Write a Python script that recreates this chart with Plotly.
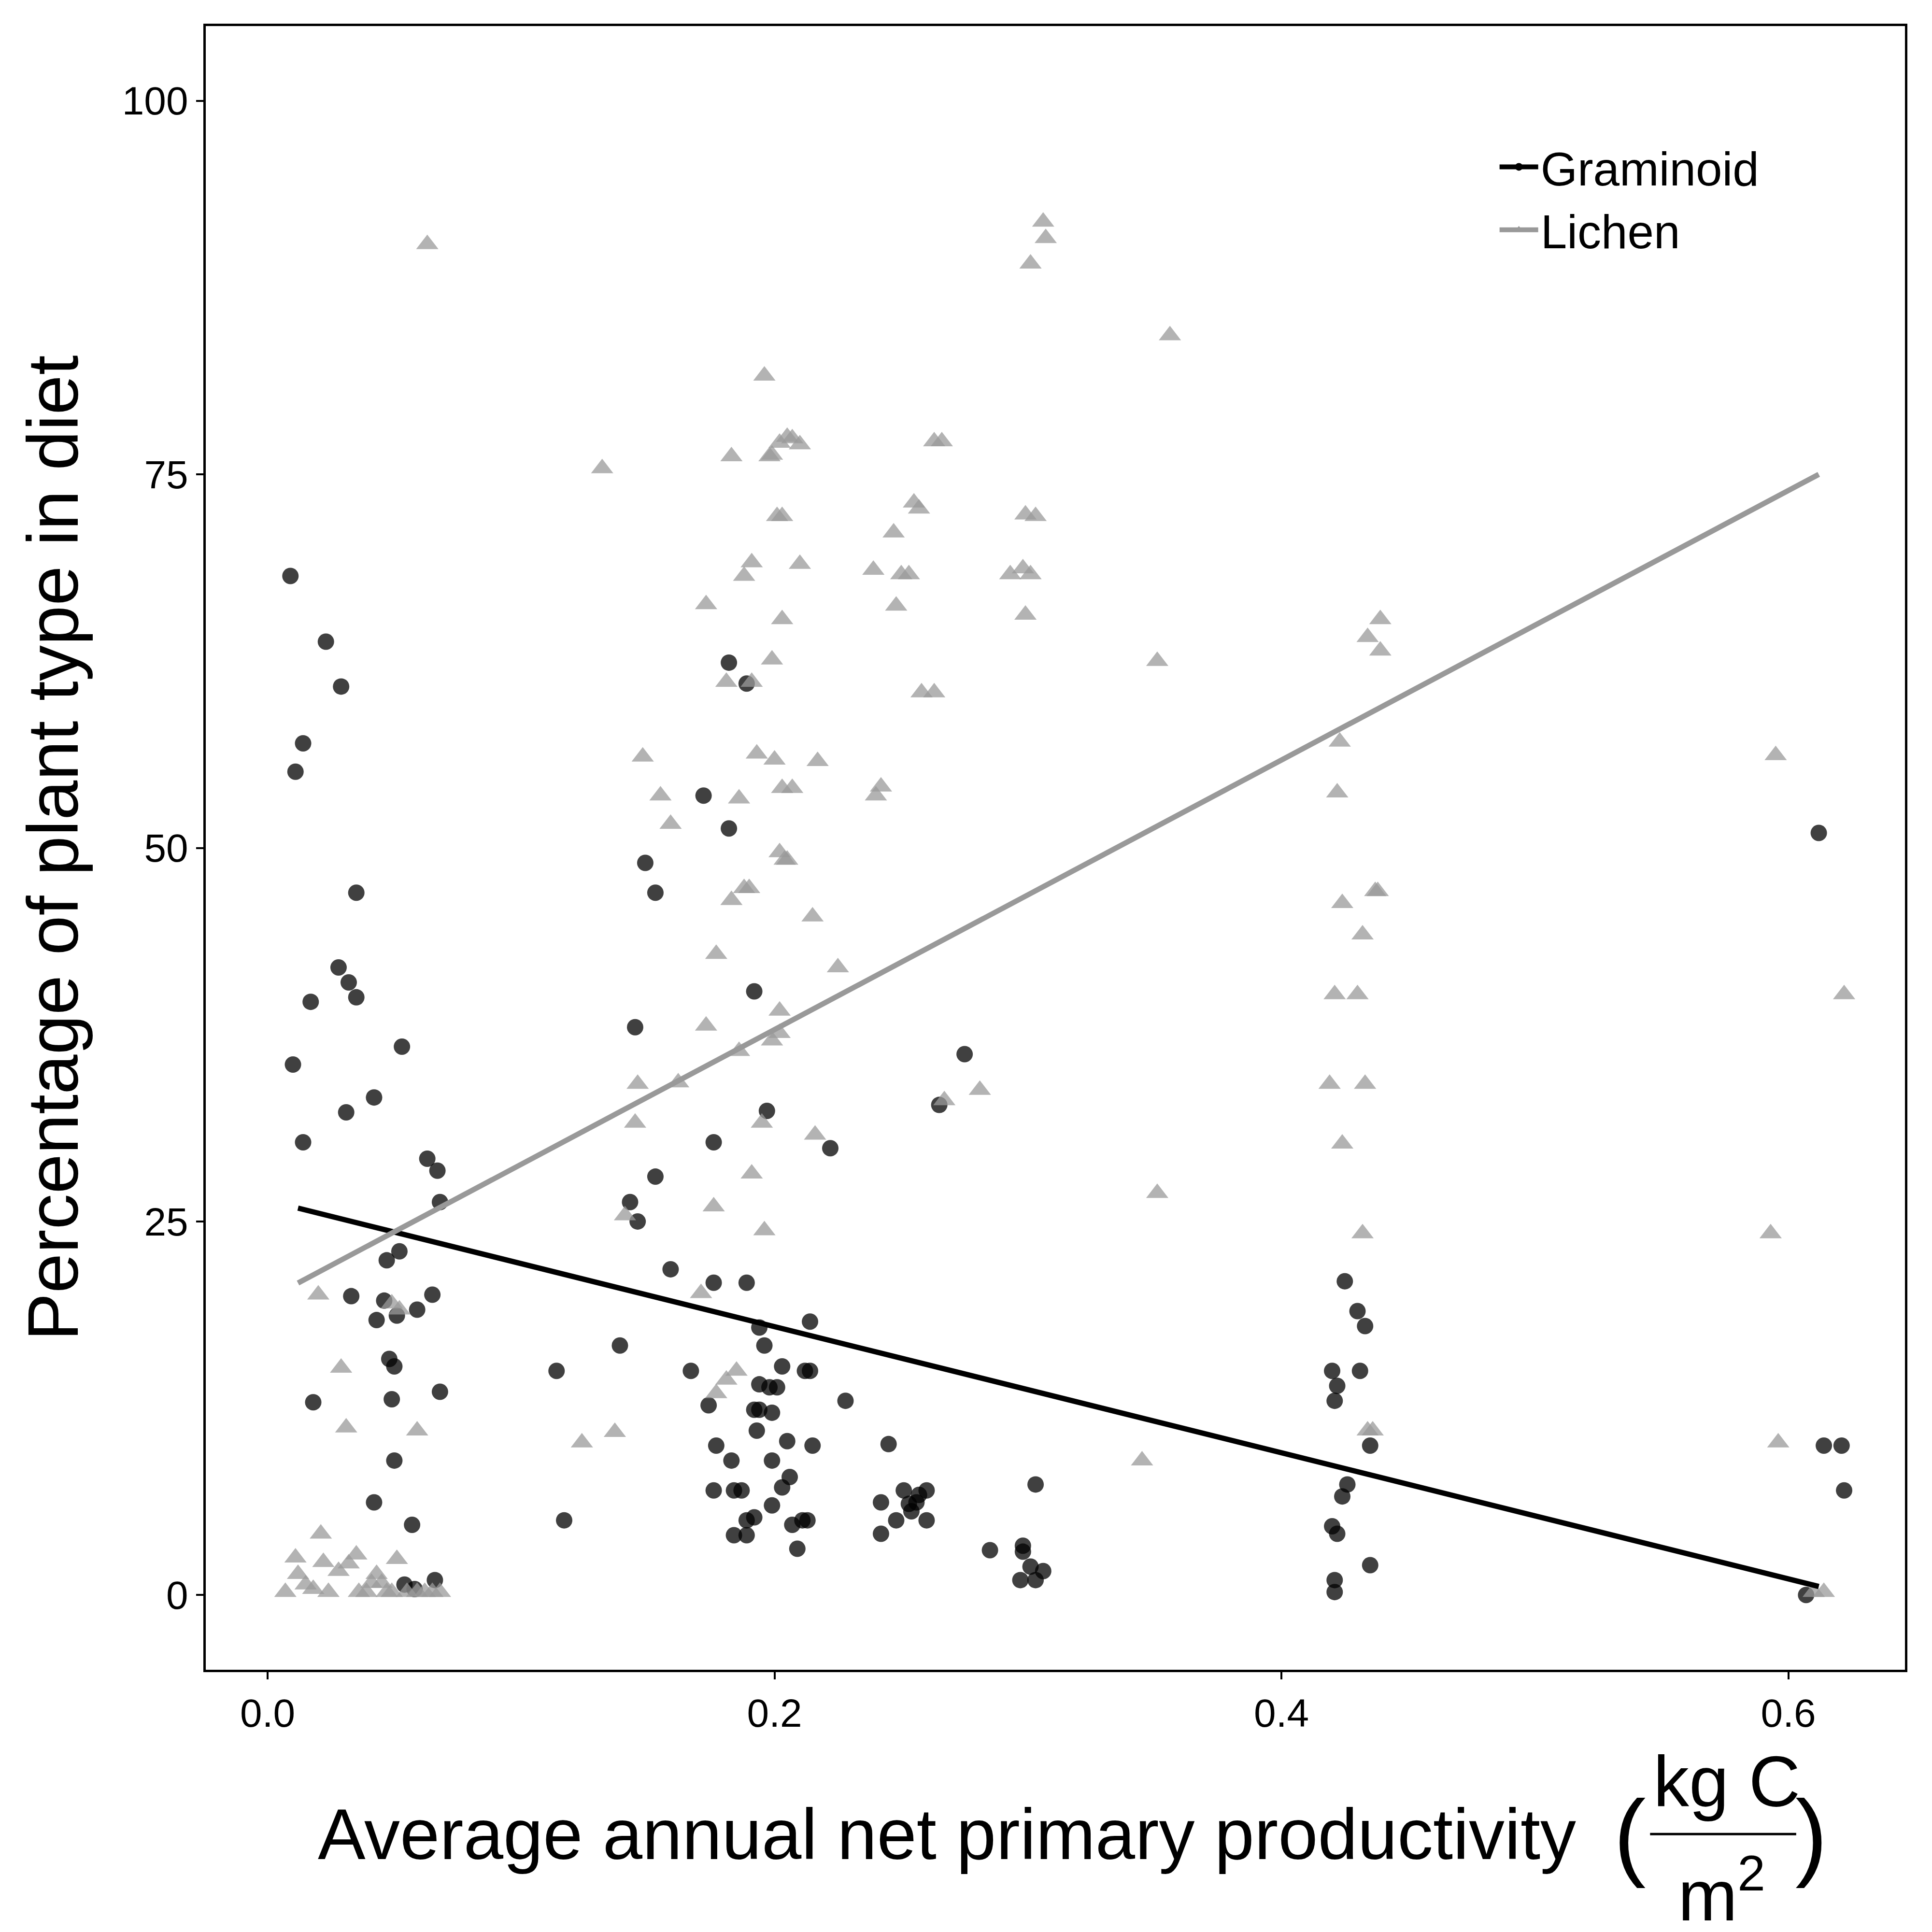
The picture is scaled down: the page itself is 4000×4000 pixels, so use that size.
import numpy as np
import plotly.graph_objects as go

# Graminoid share of diet vs NPP
gram_x = [0.009, 0.023, 0.029, 0.014, 0.011, 0.035, 0.028, 0.032, 0.035, 0.017, 0.053, 0.010, 0.042, 0.031,
          0.014, 0.063, 0.067, 0.068, 0.052, 0.047, 0.033, 0.065, 0.046, 0.059, 0.051, 0.043, 0.018, 0.048,
          0.050, 0.068, 0.049, 0.050, 0.042, 0.057, 0.054, 0.066, 0.058,
          0.114, 0.117, 0.139, 0.143, 0.146, 0.145, 0.149, 0.153, 0.153, 0.159, 0.167, 0.172, 0.176, 0.176,
          0.174, 0.177, 0.176, 0.182, 0.182, 0.189, 0.189, 0.192, 0.197, 0.194, 0.196, 0.183, 0.184, 0.187,
          0.184, 0.189, 0.189, 0.192, 0.192, 0.194, 0.194, 0.198, 0.199, 0.201, 0.203, 0.193, 0.199, 0.205,
          0.203, 0.206, 0.199, 0.207, 0.209, 0.211, 0.213, 0.212, 0.214, 0.215, 0.214, 0.222, 0.228, 0.242,
          0.242, 0.245, 0.248, 0.251, 0.253, 0.256, 0.257, 0.254, 0.260, 0.260, 0.265, 0.275, 0.285, 0.303,
          0.298, 0.297, 0.301, 0.303, 0.306, 0.298,
          0.425, 0.430, 0.433, 0.420, 0.431, 0.422, 0.421, 0.435, 0.426, 0.424, 0.420, 0.422, 0.435, 0.421,
          0.421, 0.612, 0.607, 0.614, 0.621, 0.622]
gram_y = [68.2, 63.8, 60.8, 57.0, 55.1, 47.0, 42.0, 41.0, 40.0, 39.7, 36.7, 35.5, 33.3, 32.3,
          30.3, 29.2, 28.4, 26.3, 23.0, 22.4, 20.0, 20.1, 19.7, 19.1, 18.7, 18.4, 12.9, 15.8,
          15.3, 13.6, 13.1, 9.0, 6.2, 4.7, 0.7, 1.0, 0.4,
          15.0, 5.0, 16.7, 26.3, 25.0, 38.0, 49.0, 47.0, 28.0, 21.8, 15.0, 53.5, 30.3, 20.9,
          12.7, 10.0, 7.0, 62.4, 51.3, 61.0, 20.9, 40.4, 32.4, 17.9, 16.7, 9.0, 7.0, 7.0,
          4.0, 4.0, 5.0, 5.2, 12.4, 12.4, 14.1, 13.9, 12.2, 13.9, 15.3, 11.0, 9.0, 10.3,
          7.2, 7.9, 6.0, 4.7, 3.1, 5.0, 5.0, 15.0, 18.3, 10.0, 15.0, 29.9, 13.0, 4.1,
          6.2, 10.1, 5.0, 7.0, 6.1, 6.2, 6.7, 5.6, 7.0, 5.0, 32.8, 36.2, 3.0, 7.4,
          3.3, 1.0, 1.9, 1.0, 1.6, 2.9,
          21.0, 19.0, 18.0, 15.0, 15.0, 14.0, 13.0, 10.0, 7.4, 6.6, 4.6, 4.1, 2.0, 1.0,
          0.2, 51.0, 0.0, 10.0, 10.0, 7.0]

# Lichen share of diet vs NPP
lich_x = [0.063, 0.007, 0.011, 0.012, 0.015, 0.018, 0.021, 0.020, 0.022, 0.024, 0.028, 0.029, 0.031, 0.032,
          0.035, 0.036, 0.039, 0.041, 0.043, 0.045, 0.047, 0.049, 0.051, 0.049, 0.052, 0.059, 0.055, 0.059,
          0.062, 0.065, 0.068,
          0.124, 0.132, 0.137, 0.141, 0.145, 0.146, 0.148, 0.155, 0.159, 0.162, 0.171, 0.173, 0.173, 0.176,
          0.177, 0.177, 0.181, 0.181, 0.183, 0.183, 0.185, 0.186, 0.186, 0.188, 0.188, 0.190, 0.191, 0.191,
          0.191, 0.193, 0.195, 0.196, 0.196, 0.198, 0.199, 0.199, 0.199, 0.200, 0.201, 0.203, 0.202, 0.203,
          0.203, 0.202, 0.204, 0.205, 0.202, 0.202, 0.205, 0.207, 0.207, 0.210, 0.210, 0.217, 0.215, 0.216,
          0.225, 0.239, 0.240, 0.242, 0.247, 0.248, 0.250, 0.253, 0.255, 0.257, 0.258, 0.263, 0.263, 0.266,
          0.267, 0.281, 0.293, 0.298, 0.299, 0.303, 0.301, 0.299, 0.301, 0.306, 0.307,
          0.345, 0.351, 0.351, 0.356,
          0.419, 0.421, 0.423, 0.422, 0.424, 0.424, 0.430, 0.432, 0.433, 0.432, 0.434, 0.434, 0.439, 0.439,
          0.437, 0.438, 0.436,
          0.595, 0.593, 0.596, 0.614, 0.622, 0.610]
lich_y = [90.4, 0.2, 2.5, 1.4, 0.7, 0.4, 4.1, 20.1, 2.2, 0.2, 1.6, 15.2, 11.2, 2.1,
          2.7, 0.2, 0.2, 0.8, 1.4, 0.8, 0.2, 0.2, 2.4, 19.5, 19.1, 11.0, 0.2, 0.2,
          0.2, 0.2, 0.2,
          10.2, 75.4, 10.9, 25.4, 31.6, 34.2, 56.1, 53.5, 51.6, 34.3, 20.2, 66.3, 38.1, 26.0,
          42.9, 13.5, 14.4, 61.1, 76.2, 46.5, 15.0, 36.4, 53.3, 68.2, 47.3, 47.3, 61.1, 69.1,
          28.2, 56.3, 31.6, 81.6, 24.4, 76.2, 76.3, 62.6, 37.1, 55.9, 72.2, 72.2, 77.1, 65.3,
          54.0, 49.7, 49.2, 49.2, 39.1, 37.6, 77.5, 54.0, 77.4, 77.0, 69.0, 55.8, 45.4, 30.8,
          42.0, 68.6, 53.5, 54.1, 71.1, 66.2, 68.3, 68.3, 73.1, 72.7, 60.4, 60.4, 77.2, 77.2,
          33.1, 33.8, 68.3, 68.7, 72.3, 72.2, 68.3, 65.6, 89.1, 91.9, 90.8,
          9.0, 62.5, 26.9, 84.3,
          34.2, 40.2, 57.1, 53.7, 46.3, 30.2, 40.2, 44.2, 34.2, 24.2, 11.0, 64.1, 65.3, 63.2,
          47.1, 47.1, 11.0,
          56.2, 24.2, 10.2, 0.2, 40.2, 0.2]

# fitted lines (intercept, slope), drawn over this x range
fit_x = [0.012, 0.612]
gram_fit = (26.4, -42.2)
lich_fit = (19.8, 90.2)

FONT = "Liberation Sans, Arial, sans-serif"
GREY = "#999999"

fig = go.Figure()
fig.add_trace(go.Scatter(
    x=gram_x, y=gram_y, mode="markers", showlegend=False,
    marker=dict(symbol="circle", size=34, color="black", opacity=0.75),
))
fig.add_trace(go.Scatter(
    x=lich_x, y=lich_y, mode="markers", showlegend=False,
    marker=dict(symbol="triangle-up", size=40, color=GREY, opacity=0.75),
))
fx = np.array(fit_x)
fig.add_trace(go.Scatter(
    x=fx, y=gram_fit[0] + gram_fit[1] * fx, mode="lines", showlegend=False,
    line=dict(color="black", width=11),
))
fig.add_trace(go.Scatter(
    x=fx, y=lich_fit[0] + lich_fit[1] * fx, mode="lines", showlegend=False,
    line=dict(color=GREY, width=11),
))
# legend-only entries (line + marker glyph)
fig.add_trace(go.Scatter(
    x=[None], y=[None], mode="lines+markers", name="Graminoid",
    line=dict(color="black", width=11), marker=dict(symbol="circle", size=26, color="black"),
))
fig.add_trace(go.Scatter(
    x=[None], y=[None], mode="lines+markers", name="Lichen",
    line=dict(color=GREY, width=11), marker=dict(symbol="triangle-up", size=30, color=GREY),
))

axis = dict(
    showgrid=False, zeroline=False, showline=True, mirror=True,
    linecolor="black", linewidth=5, ticks="outside", ticklen=15, tickwidth=4,
    tickcolor="black", tickfont=dict(size=82, color="black", family=FONT),
)
fig.update_xaxes(**axis, range=[-0.0244, 0.646], tickvals=[0, 0.2, 0.4, 0.6],
                 ticktext=["0.0", "0.2", "0.4", "0.6"])
fig.update_yaxes(**axis, range=[-5, 105], tickvals=[0, 25, 50, 75, 100])

fig.update_layout(
    width=4000, height=4000,
    margin=dict(l=418, r=64, t=46, b=551),
    plot_bgcolor="white", paper_bgcolor="white",
    font=dict(family=FONT, color="black"),
    legend=dict(x=0.76, y=0.935, xanchor="left", yanchor="top",
                font=dict(size=98), bgcolor="rgba(0,0,0,0)", itemwidth=80,
                tracegroupgap=10),
)

# y axis title
fig.add_annotation(text="Percentage of plant type in diet", xref="paper", yref="paper",
                   x=-0.09, y=0.5, xanchor="center", yanchor="middle", textangle=-90,
                   showarrow=False, font=dict(size=148))
# x axis title with fraction
fig.add_annotation(text="Average annual net primary productivity", xref="paper", yref="paper",
                   x=0.807, y=-0.100, xanchor="right", yanchor="middle",
                   showarrow=False, font=dict(size=148))
fig.add_annotation(text="(", xref="paper", yref="paper", x=0.838, y=-0.100,
                   xanchor="center", yanchor="middle", showarrow=False, font=dict(size=200))
fig.add_annotation(text=")", xref="paper", yref="paper", x=0.945, y=-0.100,
                   xanchor="center", yanchor="middle", showarrow=False, font=dict(size=200))
fig.add_annotation(text="kg C", xref="paper", yref="paper", x=0.895, y=-0.068,
                   xanchor="center", yanchor="middle", showarrow=False, font=dict(size=148))
fig.add_annotation(text="m<sup>2</sup>", xref="paper", yref="paper", x=0.892, y=-0.134,
                   xanchor="center", yanchor="middle", showarrow=False, font=dict(size=148))
fig.add_shape(type="line", xref="paper", yref="paper", x0=0.850, x1=0.936,
              y0=-0.100, y1=-0.100, line=dict(color="black", width=5))

fig.write_html("out.html")
